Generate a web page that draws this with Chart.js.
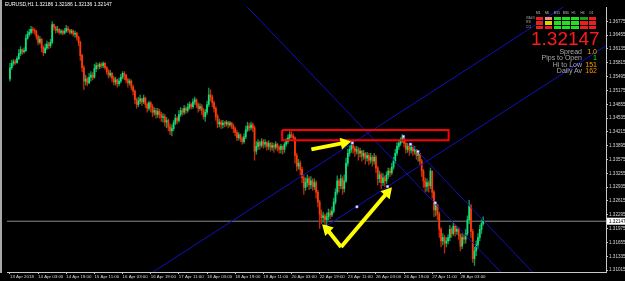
<!DOCTYPE html>
<html><head><meta charset="utf-8">
<script src="https://cdn.jsdelivr.net/npm/chart.js@4.4.1/dist/chart.umd.min.js"></script>
<style>
html,body{margin:0;padding:0;background:#000;width:625px;height:281px;overflow:hidden;}
#wrap{position:relative;width:625px;height:281px;background:#000;}
#c{position:absolute;left:0;top:0;}
.t{position:absolute;font-family:"Liberation Sans",Arial,sans-serif;white-space:nowrap;line-height:1;}
#border{position:absolute;left:0;top:0;width:2px;height:273px;background:#a8a8a8;}
</style></head><body>
<div id="wrap">
<canvas id="c" width="625" height="281"></canvas>
<div id="border"></div>
<div class="t" id="hdr" style="left:5px;top:2px;font-size:5px;color:#fff;"></div>
<div id="grid"></div>
<div class="t" id="big" style="left:531px;top:29px;font-size:19px;color:#ff1a1a;"></div>
<div id="info"></div>
</div>
<script>
// ---------- data ----------
const symbolName = 'EURUSD,H1';
const headerOHLC = ['1.32186', '1.32186', '1.32136', '1.32147'];
const currentPrice = 1.32147;
const firstOpen = 1.3544;
const closes = [
1.3570,1.3580,1.3584,1.3582,1.3591,1.3603,1.3612,1.3607,1.3610,1.3638,
1.3648,1.3652,1.3659,1.3657,1.3655,1.3643,1.3629,1.3636,1.3616,1.3605,
1.3616,1.3625,1.3621,1.3629,1.3670,1.3664,1.3657,1.3659,1.3652,1.3655,
1.3650,1.3655,1.3661,1.3657,1.3652,1.3655,1.3648,1.3650,1.3641,1.3629,
1.3598,1.3570,1.3539,1.3544,1.3535,1.3548,1.3553,1.3548,1.3568,1.3575,
1.3573,1.3578,1.3575,1.3580,1.3570,1.3561,1.3553,1.3557,1.3546,1.3537,
1.3542,1.3533,1.3539,1.3548,1.3557,1.3553,1.3542,1.3535,1.3539,1.3525,
1.3516,1.3496,1.3485,1.3493,1.3498,1.3491,1.3500,1.3485,1.3476,1.3489,
1.3480,1.3467,1.3471,1.3462,1.3469,1.3462,1.3455,1.3457,1.3444,1.3448,
1.3433,1.3424,1.3429,1.3442,1.3453,1.3448,1.3462,1.3471,1.3467,1.3476,
1.3471,1.3478,1.3485,1.3480,1.3491,1.3496,1.3485,1.3476,1.3480,1.3471,
1.3457,1.3467,1.3485,1.3507,1.3502,1.3489,1.3476,1.3457,1.3440,1.3444,
1.3438,1.3442,1.3440,1.3444,1.3438,1.3442,1.3435,1.3429,1.3420,1.3408,
1.3415,1.3406,1.3399,1.3410,1.3426,1.3435,1.3431,1.3438,1.3431,1.3377,
1.3388,1.3397,1.3390,1.3399,1.3393,1.3397,1.3388,1.3395,1.3386,1.3390,
1.3386,1.3393,1.3386,1.3381,1.3388,1.3381,1.3393,1.3399,1.3408,1.3415,
1.3412,1.3408,1.3367,1.3342,1.3349,1.3335,1.3315,1.3293,1.3304,1.3313,
1.3299,1.3308,1.3295,1.3304,1.3282,1.3259,1.3231,1.3223,1.3227,1.3218,
1.3225,1.3234,1.3229,1.3238,1.3259,1.3282,1.3308,1.3297,1.3313,1.3290,
1.3308,1.3349,1.3372,1.3381,1.3390,1.3384,1.3377,1.3381,1.3372,1.3377,
1.3365,1.3372,1.3361,1.3367,1.3356,1.3363,1.3354,1.3363,1.3338,1.3313,
1.3322,1.3304,1.3315,1.3308,1.3322,1.3331,1.3327,1.3340,1.3354,1.3372,
1.3388,1.3395,1.3401,1.3408,1.3395,1.3381,1.3388,1.3379,1.3386,1.3377,
1.3381,1.3367,1.3372,1.3354,1.3331,1.3308,1.3295,1.3304,1.3297,1.3331,
1.3282,1.3241,1.3252,1.3231,1.3196,1.3169,1.3177,1.3164,1.3169,1.3177,
1.3196,1.3186,1.3203,1.3191,1.3196,1.3182,1.3157,1.3177,1.3173,1.3186,
1.3218,1.3250,1.3191,1.3128,1.3146,1.3160,1.3177,1.3196,1.3209,1.32147
];
const highs = [
1.3580,1.3587,1.3589,1.3589,1.3596,1.3612,1.3619,1.3614,1.3616,1.3646,
1.3655,1.3659,1.3666,1.3664,1.3661,1.3657,1.3646,1.3643,1.3638,1.3621,
1.3625,1.3632,1.3629,1.3636,1.3677,1.3672,1.3666,1.3666,1.3661,1.3659,
1.3657,1.3661,1.3668,1.3666,1.3659,1.3659,1.3657,1.3655,1.3652,1.3643,
1.3632,1.3601,1.3575,1.3553,1.3548,1.3557,1.3561,1.3559,1.3578,1.3582,
1.3580,1.3582,1.3582,1.3584,1.3582,1.3573,1.3566,1.3564,1.3559,1.3551,
1.3548,1.3544,1.3546,1.3555,1.3561,1.3561,1.3555,1.3546,1.3544,1.3542,
1.3530,1.3519,1.3500,1.3502,1.3507,1.3500,1.3507,1.3502,1.3489,1.3493,
1.3491,1.3485,1.3478,1.3476,1.3476,1.3474,1.3467,1.3464,1.3462,1.3455,
1.3451,1.3440,1.3438,1.3448,1.3462,1.3457,1.3471,1.3478,1.3476,1.3483,
1.3480,1.3487,1.3491,1.3489,1.3498,1.3502,1.3498,1.3489,1.3487,1.3485,
1.3476,1.3474,1.3493,1.3523,1.3519,1.3507,1.3493,1.3480,1.3462,1.3451,
1.3448,1.3448,1.3446,1.3448,1.3446,1.3446,1.3444,1.3440,1.3433,1.3426,
1.3420,1.3417,1.3410,1.3417,1.3435,1.3444,1.3442,1.3444,1.3442,1.3435,
1.3399,1.3404,1.3401,1.3406,1.3404,1.3404,1.3399,1.3401,1.3397,1.3397,
1.3395,1.3399,1.3395,1.3390,1.3393,1.3390,1.3397,1.3406,1.3415,1.3422,
1.3422,1.3417,1.3410,1.3372,1.3358,1.3354,1.3340,1.3322,1.3315,1.3322,
1.3318,1.3318,1.3313,1.3313,1.3308,1.3286,1.3263,1.3241,1.3236,1.3231,
1.3234,1.3243,1.3241,1.3248,1.3268,1.3290,1.3320,1.3313,1.3322,1.3318,
1.3322,1.3361,1.3381,1.3390,1.3397,1.3395,1.3388,1.3388,1.3386,1.3384,
1.3379,1.3379,1.3374,1.3374,1.3372,1.3372,1.3367,1.3372,1.3367,1.3342,
1.3331,1.3327,1.3325,1.3320,1.3329,1.3338,1.3338,1.3349,1.3363,1.3381,
1.3397,1.3403,1.3408,1.3415,1.3412,1.3399,1.3395,1.3393,1.3393,1.3390,
1.3388,1.3381,1.3377,1.3372,1.3358,1.3335,1.3315,1.3313,1.3308,1.3338,
1.3331,1.3286,1.3259,1.3254,1.3236,1.3200,1.3186,1.3182,1.3177,1.3184,
1.3205,1.3200,1.3214,1.3207,1.3203,1.3200,1.3186,1.3186,1.3184,1.3196,
1.3227,1.3263,1.3254,1.3196,1.3155,1.3169,1.3186,1.3205,1.3218,1.3225
];
const lows = [
1.3539,1.3566,1.3575,1.3578,1.3580,1.3589,1.3598,1.3601,1.3603,1.3607,
1.3636,1.3643,1.3648,1.3650,1.3648,1.3636,1.3623,1.3625,1.3607,1.3598,
1.3603,1.3612,1.3614,1.3616,1.3625,1.3657,1.3650,1.3652,1.3648,1.3648,
1.3646,1.3648,1.3652,1.3652,1.3648,1.3648,1.3643,1.3641,1.3634,1.3621,
1.3587,1.3561,1.3519,1.3530,1.3528,1.3533,1.3539,1.3542,1.3546,1.3561,
1.3566,1.3568,1.3570,1.3570,1.3566,1.3555,1.3546,1.3548,1.3537,1.3530,
1.3530,1.3525,1.3528,1.3535,1.3544,1.3542,1.3535,1.3525,1.3530,1.3519,
1.3507,1.3487,1.3476,1.3480,1.3487,1.3483,1.3487,1.3478,1.3467,1.3471,
1.3467,1.3457,1.3460,1.3453,1.3455,1.3453,1.3446,1.3444,1.3435,1.3431,
1.3424,1.3415,1.3412,1.3424,1.3438,1.3440,1.3444,1.3457,1.3460,1.3462,
1.3464,1.3467,1.3474,1.3474,1.3476,1.3485,1.3478,1.3467,1.3471,1.3462,
1.3451,1.3446,1.3462,1.3480,1.3493,1.3480,1.3467,1.3448,1.3431,1.3433,
1.3429,1.3431,1.3433,1.3435,1.3431,1.3433,1.3429,1.3420,1.3412,1.3401,
1.3403,1.3399,1.3393,1.3395,1.3406,1.3422,1.3424,1.3426,1.3422,1.3356,
1.3370,1.3381,1.3381,1.3386,1.3384,1.3386,1.3379,1.3381,1.3377,1.3379,
1.3374,1.3381,1.3377,1.3372,1.3372,1.3370,1.3374,1.3388,1.3395,1.3403,
1.3408,1.3401,1.3349,1.3331,1.3335,1.3322,1.3304,1.3277,1.3286,1.3295,
1.3288,1.3290,1.3286,1.3288,1.3268,1.3248,1.3198,1.3209,1.3212,1.3205,
1.3207,1.3218,1.3220,1.3225,1.3234,1.3254,1.3277,1.3282,1.3290,1.3277,
1.3282,1.3304,1.3342,1.3365,1.3374,1.3372,1.3365,1.3370,1.3356,1.3363,
1.3354,1.3358,1.3347,1.3354,1.3345,1.3349,1.3342,1.3347,1.3327,1.3299,
1.3304,1.3290,1.3297,1.3295,1.3302,1.3313,1.3318,1.3322,1.3335,1.3349,
1.3367,1.3381,1.3390,1.3397,1.3386,1.3372,1.3374,1.3367,1.3372,1.3367,
1.3370,1.3358,1.3354,1.3345,1.3318,1.3293,1.3282,1.3284,1.3282,1.3290,
1.3268,1.3225,1.3227,1.3218,1.3177,1.3155,1.3160,1.3141,1.3155,1.3162,
1.3169,1.3177,1.3182,1.3180,1.3184,1.3173,1.3146,1.3151,1.3162,1.3164,
1.3182,1.3209,1.3177,1.3119,1.3112,1.3135,1.3151,1.3169,1.3186,1.3205
];
const xTickBars = [0,16,32,48,64,80,96,112,128,144,160,176,192,208,224,240,256];
const xTickLabels = ['13 Apr 2018','14 Apr 03:00','14 Apr 19:00','15 Apr 11:00','16 Apr 03:00','16 Apr 19:00',
  '17 Apr 11:00','18 Apr 03:00','18 Apr 19:00','19 Apr 11:00','20 Apr 03:00','22 Apr 19:00',
  '23 Apr 11:00','26 Apr 03:00','26 Apr 19:00','27 Apr 11:00','28 Apr 03:00'];
const yTickValues = [1.31015,1.31335,1.31655,1.31975,1.32295,1.32615,1.32935,1.33255,1.33575,
  1.33895,1.34215,1.34535,1.34855,1.35175,1.35495,1.35815,1.36135,1.36455,1.36775];
// drawn objects, anchored in (bar index, price)
const channelUpper = [{x:80.9,y:1.3096},{x:314.6,y:1.3711}];
const channelLower = [{x:179.6,y:1.3203},{x:338.8,y:1.3621}];
const downLine1 = [{x:134.8,y:1.3711},{x:279.2,y:1.3096}];
const downLine2 = [{x:223.6,y:1.3411},{x:297.2,y:1.3096}];
const resistanceBox = [{x:154.7,y:1.3426},{x:249.3,y:1.3426},{x:249.3,y:1.3402},{x:154.7,y:1.3402},{x:154.7,y:1.3426}];
const swingPoints = [{x:179.6,y:1.3203},{x:197.2,y:1.3248},{x:214.6,y:1.3295},{x:194.6,y:1.3396},
  {x:223.6,y:1.3411},{x:227.7,y:1.3393},{x:231.9,y:1.3376},{x:241.7,y:1.3257}];
const arrowRight = [{x:171.3,y:1.3381},{x:190.0,y:1.3396}];
const arrowUp = [{x:188.2,y:1.3155},{x:214.5,y:1.3281}];
const arrowBack = [{x:188.2,y:1.3155},{x:180.2,y:1.3196}];
// info panel
const tfNames = ['M1','M5','M15','M30','H1','H4','D1'];
const rowNames = ['WADX','RSI','CCI'];
const cellColors = [
  ['#e82020','#f09070','#20e020','#20e020','#20e020','#18a018','#e82020'],
  ['#e82020','#e0d000','#20e020','#20e020','#20e020','#e82020','#e82020'],
  ['#e82020','#e82020','#20e020','#20e020','#20e020','#e82020','#e82020']
];
const infoLabels = ['Spread','Pips to Open','Hi to Low','Daily Av'];
const infoValues = ['1.0','1','151','162'];
const infoColors = ['#ffa500','#00ff00','#ffa500','#ff8c00'];

// ---------- overlays (text) ----------
document.getElementById('hdr').textContent = symbolName + '  ' + headerOHLC.join(' ');
document.getElementById('big').textContent = currentPrice.toFixed(5);
(function(){
  const g = document.getElementById('grid');
  let h = '';
  tfNames.forEach((n,j)=>{ h += `<div class="t" style="left:${536+j*8.9}px;top:12px;font-size:3.2px;color:#c0c0c0;">${n}</div>`; });
  rowNames.forEach((n,r)=>{
    h += `<div class="t" style="left:526px;top:${16.6+r*4.5}px;font-size:3px;color:#a0a0a0;">${n}</div>`;
    cellColors[r].forEach((c,j)=>{ h += `<div style="position:absolute;left:${535.7+j*8.9}px;top:${16.8+r*4.5}px;width:7.4px;height:3.4px;background:${c};"></div>`; });
  });
  g.innerHTML = h;
  const inf = document.getElementById('info');
  let s = '';
  infoLabels.forEach((l,k)=>{
    const top = 47.5 + k*6.5;
    s += `<div class="t" style="right:${625-582}px;top:${top}px;font-size:7px;color:#a8a8a8;">${l}</div>`;
    s += `<div class="t" style="right:${625-597}px;top:${top}px;font-size:7px;color:${infoColors[k]};">${infoValues[k]}</div>`;
  });
  inf.innerHTML = s;
})();

// ---------- chart ----------
const opens = closes.map((c,i)=> i===0 ? firstOpen : closes[i-1]);
const wickData = closes.map((c,i)=>({x:i, y:[lows[i], highs[i]]}));
const bodyData = closes.map((c,i)=>({x:i, y:[opens[i], c]}));
const isUp = i => closes[i] >= opens[i];

const priceBox = {
  id:'priceBox',
  afterDraw(chart){
    const ctx = chart.ctx, ys = chart.scales.y, area = chart.chartArea;
    const py = ys.getPixelForValue(currentPrice);
    ctx.save();
    ctx.fillStyle = '#ffffff';
    ctx.fillRect(area.right+1, py-3.5, 625-area.right-1, 7);
    ctx.fillStyle = '#000';
    ctx.font = '4.6px "Liberation Sans", Arial, sans-serif';
    ctx.textBaseline = 'middle';
    ctx.textAlign = 'left';
    ctx.fillText(currentPrice.toFixed(5), area.right+3, py+0.3);
    ctx.restore();
  }
};

const lineDs = (data, color, width, order) => ({
  type:'line', data, borderColor:color, borderWidth:width, pointRadius:0, fill:false,
  tension:0, order
});
const arrowDs = (data, rot) => ({
  type:'line', data, borderColor:'#ffff00', backgroundColor:'#ffff00', borderWidth:4,
  pointRadius:[0,7], pointStyle:'triangle', pointRotation:rot, pointBorderWidth:0,
  pointBackgroundColor:'#ffff00', fill:false, tension:0, order:1, borderCapStyle:'butt'
});

new Chart(document.getElementById('c'), {
  type:'bar',
  data:{ datasets:[
    arrowDs(arrowRight, 79),
    arrowDs(arrowUp, 41),
    arrowDs(arrowBack, -45),
    { type:'scatter', data:swingPoints, pointStyle:'rect', pointRadius:1.6, backgroundColor:'#ffffff',
      borderColor:'#8888ff', borderWidth:0.6, order:2 },
    lineDs(resistanceBox, '#ff0000', 2, 3),
    lineDs(channelUpper, '#1010c0', 1, 4),
    lineDs(channelLower, '#1010c0', 1, 4),
    lineDs(downLine1, '#1010c0', 1, 4),
    lineDs(downLine2, '#1010c0', 1, 4),
    { type:'bar', data:bodyData, grouped:false, barThickness:1.1, order:5,
      backgroundColor: c => isUp(c.dataIndex) ? '#12e07a' : '#ff3a0a' },
    { type:'bar', data:wickData, grouped:false, barThickness:0.7, order:6,
      backgroundColor: c => isUp(c.dataIndex) ? '#0a9a50' : '#c02a08' },
    lineDs([{x:-5,y:currentPrice},{x:400,y:currentPrice}], '#8a8a8a', 1, 7)
  ]},
  options:{
    responsive:false, animation:false, devicePixelRatio:1,
    layout:{padding:0},
    plugins:{legend:{display:false}, tooltip:{enabled:false}},
    scales:{
      x:{ type:'linear', min:-1.685, max:338.76, offset:false,
        afterBuildTicks: s => { s.ticks = xTickBars.map(v=>({value:v})); },
        afterFit: s => { s.height = 9; },
        grid:{ display:true, drawOnChartArea:false, drawTicks:true, tickLength:2, color:'#c8c8c8', offset:false },
        border:{ display:true, color:'#c8c8c8', width:1 },
        ticks:{ autoSkip:false, maxRotation:0, minRotation:0, align:'start', padding:0, color:'#d8d8d8',
          font:{ family:'"Liberation Sans", Arial, sans-serif', size:4.4 },
          callback: v => { const k = xTickBars.indexOf(v); return k>=0 ? xTickLabels[k] : ''; } }
      },
      y:{ type:'linear', position:'right', min:1.30971, max:1.37107,
        afterBuildTicks: s => { s.ticks = yTickValues.map(v=>({value:v})); },
        afterFit: s => { s.width = 19; },
        grid:{ display:true, drawOnChartArea:false, drawTicks:true, tickLength:2, color:'#c8c8c8' },
        border:{ display:true, color:'#c8c8c8', width:1 },
        ticks:{ autoSkip:false, padding:1, color:'#d8d8d8',
          font:{ family:'"Liberation Sans", Arial, sans-serif', size:4.6 },
          callback: v => v.toFixed(5) }
      }
    }
  },
  plugins:[priceBox]
});
</script>
</body></html>
